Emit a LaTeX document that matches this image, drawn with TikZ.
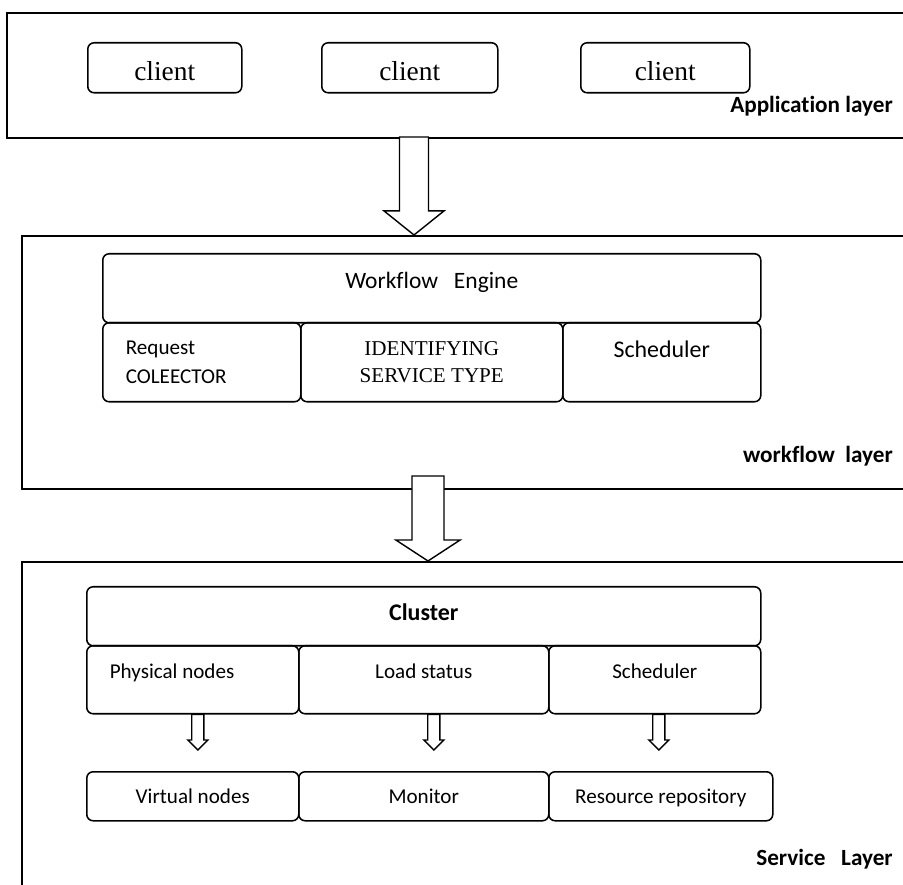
\documentclass[tikz,border=0pt]{standalone}
\usepackage{fontspec}
\setmainfont{Carlito}[Ligatures=NoCommon]
\newfontfamily\timesface{Liberation Serif}
\usetikzlibrary{calc}

\newcommand{\pu}{0.025cm}

\tikzset{
		layer/.style={draw, line width=1.4pt, anchor=north west, inner sep=0pt},
		box/.style={draw, line width=1.1pt, rounded corners=4.5pt, anchor=north west, inner sep=0pt, font=\fontsize{15}{20}\selectfont},
		row/.style={text height=8pt, text depth=9.4pt, minimum height=68*\pu},
		low/.style={text height=12pt, text depth=1.3pt, minimum height=49*\pu},
		tag/.style={anchor=base east, inner sep=0pt, font=\bfseries\fontsize{16.5}{20}\selectfont},
		blockarrow/.style n args={3}{draw, fill=white, line width=1pt,
			to path={let \p1=(\tikztostart), \p2=(\tikztotarget) in
				(\x1-#1,\y1) -- (\x1-#1,\y2+#3) -- (\x1-#2,\y2+#3) -- (\x1,\y2)
				-- (\x1+#2,\y2+#3) -- (\x1+#1,\y2+#3) -- (\x1+#1,\y1) -- cycle}}
	}

\begin{document}
\begin{tikzpicture}[x=\pu, y=-\pu]
	
	\useasboundingbox (0,0) rectangle (903,885);
	\clip (0,0) rectangle (903,885);
	
	\node[layer, minimum width=920*\pu, minimum height=125*\pu] (app) at (6,12) {};
	
	\node[box, font=\timesface\fontsize{19.5}{22}\selectfont, text height=18.5pt, text depth=0pt, minimum width=154*\pu, minimum height=50*\pu] (client1) at (87,42) {client};
	\node[box, font=\timesface\fontsize{19.5}{22}\selectfont, text height=18.5pt, text depth=0pt, minimum width=176*\pu, minimum height=50*\pu] (client2) at (321,42) {client};
	\node[box, font=\timesface\fontsize{19.5}{22}\selectfont, text height=18.5pt, text depth=0pt, minimum width=169*\pu, minimum height=50*\pu] (client3) at (580,42) {client};
	
	\node[tag] (apptag) at (893,113) {Application layer};
	\coordinate (appout) at (414,137);
	
	\node[layer, minimum width=905*\pu, minimum height=253*\pu] (wf) at (21,235) {};
	
	\node[box, font=\fontsize{16.7}{20}\selectfont, text height=8pt, text depth=8pt, minimum width=658*\pu, minimum height=69*\pu] (engine) at (102,253) {Workflow\ \ \ Engine};
	\node[box, align=flush left, text width=108pt, minimum width=198*\pu, minimum height=79*\pu] (collector) at (102,322) {Request\\COLEECTOR};
	\node[box, align=center, font=\timesface\fontsize{15}{19.2}\selectfont, minimum width=262*\pu, minimum height=79*\pu] (identify) at (300,322) {IDENTIFYING\\SERVICE TYPE};
	\node[box, font=\fontsize{17}{20}\selectfont, text height=6pt, text depth=13.1pt, minimum width=198*\pu, minimum height=79*\pu] (wfsched) at (562,322) {Scheduler};
	
	\node[tag] (wftag) at (893,463) {workflow\ \ layer};
	\coordinate (wfout) at (428,476);
	
	\node[layer, minimum width=905*\pu, minimum height=340*\pu] (svc) at (21,561) {};
	
	\node[box, font=\bfseries\fontsize{17}{20}\selectfont, text height=10pt, text depth=3.6pt, minimum width=674*\pu, minimum height=59*\pu] (cluster) at (86,586) {Cluster};
	
	\node[box, row, align=flush left, text width=118pt, minimum width=212*\pu] (phys) at (86,645) {Physical nodes};
	\node[box, row, minimum width=250*\pu] (load) at (298,645) {Load status};
	\node[box, row, minimum width=212*\pu] (svcsched) at (548,645) {Scheduler};
	
	\node[box, low, minimum width=212*\pu] (virt) at (86,771) {Virtual nodes};
	\node[box, low, minimum width=250*\pu] (monitor) at (298,771) {Monitor};
	\node[box, low, minimum width=224*\pu] (repo) at (548,771) {Resource repository};
	
	\node[tag] (svctag) at (893,865) {Service\ \ \ Layer};
	
	\draw[blockarrow={10.3pt}{21.3pt}{17.1pt}] (appout) to (appout |- wf.north);
	\draw[blockarrow={11.4pt}{22.8pt}{14.9pt}] (wfout) to (wfout |- svc.north);
	
	\draw[blockarrow={4.3pt}{7.1pt}{7.1pt}] ($(phys.south)+(5,0)$) to ($(virt.north)+(5,-21)$);
	\draw[blockarrow={4.3pt}{7.1pt}{7.1pt}] ($(load.south)+(10,0)$) to ($(monitor.north)+(10,-21)$);
	\draw[blockarrow={4.3pt}{7.1pt}{7.1pt}] ($(svcsched.south)+(4,0)$) to ($(repo.north)+(4,-21)$);
	
\end{tikzpicture}
\end{document}
